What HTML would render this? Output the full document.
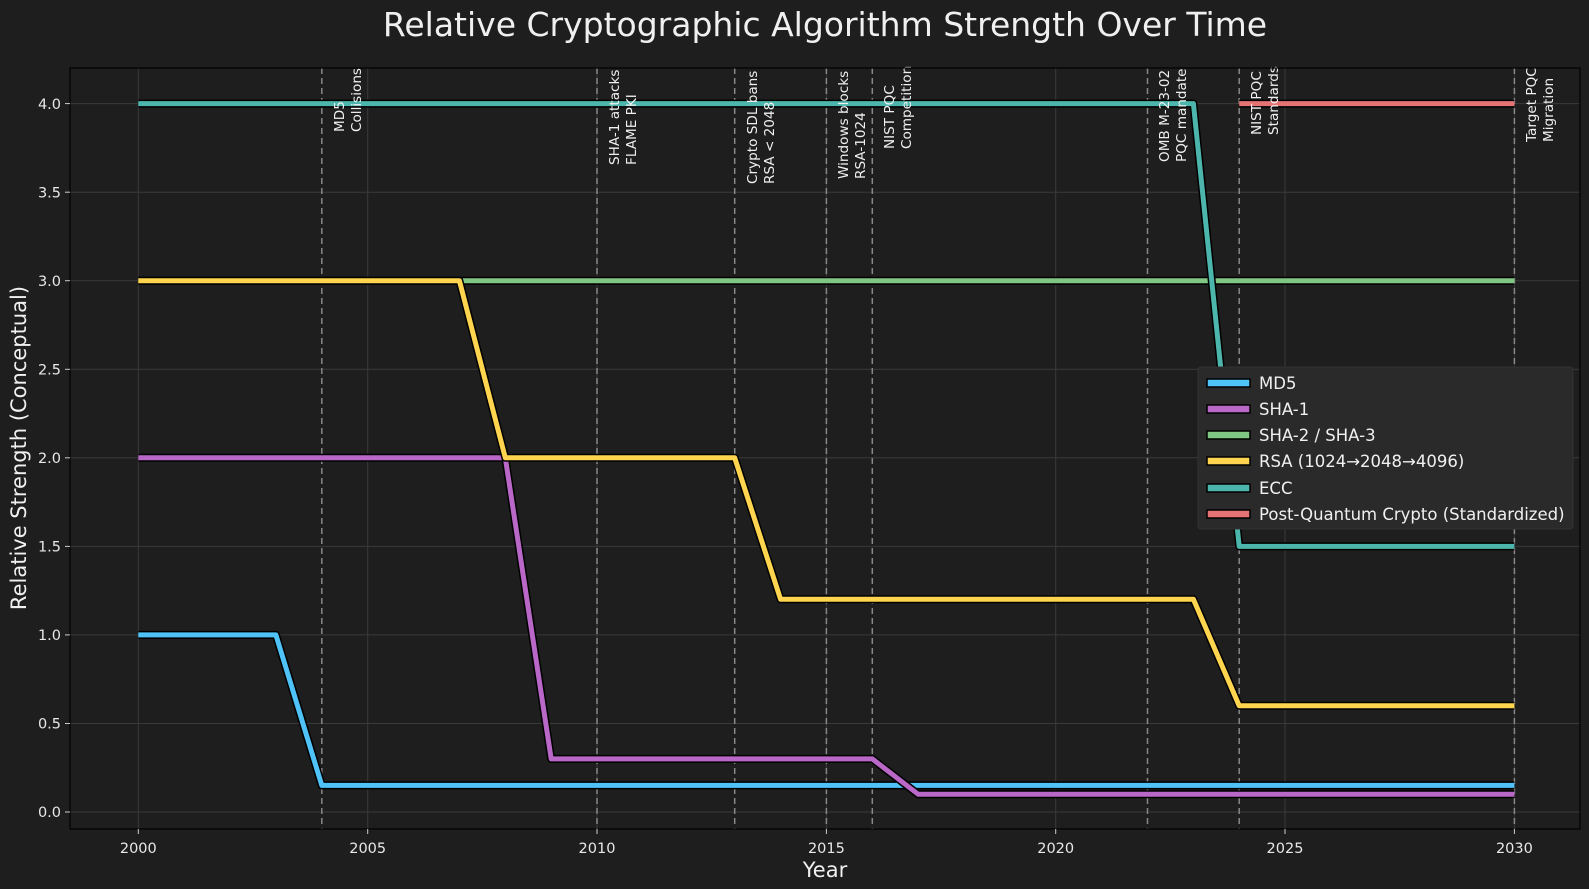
<!DOCTYPE html>
<html><head><meta charset="utf-8"><style>
html,body{margin:0;padding:0;background:#1e1e1e;}
svg{display:block;font-family:"DejaVu Sans","Liberation Sans",sans-serif;}
</style></head><body>
<svg width="1589" height="889" viewBox="0 0 1589 889" xmlns="http://www.w3.org/2000/svg">
<rect width="1589" height="889" fill="#1e1e1e"/>
<text x="825" y="36" fill="#f0f0f0" font-size="33" text-anchor="middle">Relative Cryptographic Algorithm Strength Over Time</text>
<g stroke="#3a3a3a" stroke-width="1">
<line x1="138.3" y1="68" x2="138.3" y2="829"/><line x1="367.7" y1="68" x2="367.7" y2="829"/>
<line x1="597" y1="68" x2="597" y2="829"/><line x1="826.4" y1="68" x2="826.4" y2="829"/>
<line x1="1055.7" y1="68" x2="1055.7" y2="829"/><line x1="1285" y1="68" x2="1285" y2="829"/>
<line x1="1514.4" y1="68" x2="1514.4" y2="829"/>
<line x1="70" y1="812" x2="1580" y2="812"/><line x1="70" y1="723.5" x2="1580" y2="723.5"/>
<line x1="70" y1="634.9" x2="1580" y2="634.9"/><line x1="70" y1="546.4" x2="1580" y2="546.4"/>
<line x1="70" y1="457.8" x2="1580" y2="457.8"/><line x1="70" y1="369.3" x2="1580" y2="369.3"/>
<line x1="70" y1="280.7" x2="1580" y2="280.7"/><line x1="70" y1="192.2" x2="1580" y2="192.2"/>
<line x1="70" y1="103.6" x2="1580" y2="103.6"/>
</g>
<g stroke="#888" stroke-width="1.5" stroke-dasharray="6,4">
<line x1="321.8" y1="68" x2="321.8" y2="829"/><line x1="597" y1="68" x2="597" y2="829"/>
<line x1="734.7" y1="68" x2="734.7" y2="829"/><line x1="826.4" y1="68" x2="826.4" y2="829"/>
<line x1="872.3" y1="68" x2="872.3" y2="829"/><line x1="1147.5" y1="68" x2="1147.5" y2="829"/>
<line x1="1239.2" y1="68" x2="1239.2" y2="829"/><line x1="1514.4" y1="68" x2="1514.4" y2="829"/>
</g>
<g fill="none" stroke-linejoin="round">
<polyline points="138.3,634.9 275.9,634.9 321.8,785.4 1514.4,785.4" stroke="#000" stroke-width="8"/>
<polyline points="138.3,634.9 275.9,634.9 321.8,785.4 1514.4,785.4" stroke="#4fc3f7" stroke-width="5"/>
<polyline points="138.3,457.8 505.3,457.8 551.2,758.9 872.3,758.9 918.2,794.3 1514.4,794.3" stroke="#000" stroke-width="8"/>
<polyline points="138.3,457.8 505.3,457.8 551.2,758.9 872.3,758.9 918.2,794.3 1514.4,794.3" stroke="#ba68c8" stroke-width="5"/>
<polyline points="138.3,280.7 1514.4,280.7" stroke="#000" stroke-width="8"/>
<polyline points="138.3,280.7 1514.4,280.7" stroke="#81c784" stroke-width="5"/>
<polyline points="138.3,280.7 459.4,280.7 505.3,457.8 734.7,457.8 780.6,599.3 1193.4,599.3 1239.2,705.7 1514.4,705.7" stroke="#000" stroke-width="8"/>
<polyline points="138.3,280.7 459.4,280.7 505.3,457.8 734.7,457.8 780.6,599.3 1193.4,599.3 1239.2,705.7 1514.4,705.7" stroke="#ffd54f" stroke-width="5"/>
<polyline points="138.3,103.6 1193.4,103.6 1239.2,546.4 1514.4,546.4" stroke="#000" stroke-width="8"/>
<polyline points="138.3,103.6 1193.4,103.6 1239.2,546.4 1514.4,546.4" stroke="#4db6ac" stroke-width="5"/>
<polyline points="1239.2,103.6 1514.4,103.6" stroke="#000" stroke-width="8"/>
<polyline points="1239.2,103.6 1514.4,103.6" stroke="#e57373" stroke-width="5"/>
</g>
<g fill="#f0f0f0" font-size="13.6">
<text transform="translate(344,132) rotate(-90)">MD5</text><text transform="translate(361,132) rotate(-90)">Collisions</text>
<text transform="translate(619,165) rotate(-90)">SHA-1 attacks</text><text transform="translate(636,165) rotate(-90)">FLAME PKI</text>
<text transform="translate(757,184) rotate(-90)">Crypto SDL bans</text><text transform="translate(774,184) rotate(-90)">RSA &lt; 2048</text>
<text transform="translate(848,179) rotate(-90)">Windows blocks</text><text transform="translate(865,179) rotate(-90)">RSA-1024</text>
<text transform="translate(894,149) rotate(-90)">NIST PQC</text><text transform="translate(911,149) rotate(-90)">Competition</text>
<text transform="translate(1169,162) rotate(-90)">OMB M-23-02</text><text transform="translate(1186,162) rotate(-90)">PQC mandate</text>
<text transform="translate(1261,135) rotate(-90)">NIST PQC</text><text transform="translate(1278,135) rotate(-90)">Standards</text>
<text transform="translate(1536,142) rotate(-90)">Target PQC</text><text transform="translate(1553,142) rotate(-90)">Migration</text>
</g>
<rect x="70" y="68" width="1510" height="761" fill="none" stroke="#000" stroke-width="1.2"/>
<g stroke="#ccc" stroke-width="1">
<line x1="138.3" y1="829" x2="138.3" y2="834"/><line x1="367.7" y1="829" x2="367.7" y2="834"/>
<line x1="597" y1="829" x2="597" y2="834"/><line x1="826.4" y1="829" x2="826.4" y2="834"/>
<line x1="1055.7" y1="829" x2="1055.7" y2="834"/><line x1="1285" y1="829" x2="1285" y2="834"/>
<line x1="1514.4" y1="829" x2="1514.4" y2="834"/>
<line x1="65" y1="812" x2="70" y2="812"/><line x1="65" y1="723.5" x2="70" y2="723.5"/>
<line x1="65" y1="634.9" x2="70" y2="634.9"/><line x1="65" y1="546.4" x2="70" y2="546.4"/>
<line x1="65" y1="457.8" x2="70" y2="457.8"/><line x1="65" y1="369.3" x2="70" y2="369.3"/>
<line x1="65" y1="280.7" x2="70" y2="280.7"/><line x1="65" y1="192.2" x2="70" y2="192.2"/>
<line x1="65" y1="103.6" x2="70" y2="103.6"/>
</g>
<g fill="#e8e8e8" font-size="14.5" text-anchor="middle">
<text x="138.3" y="853">2000</text><text x="367.7" y="853">2005</text><text x="597" y="853">2010</text>
<text x="826.4" y="853">2015</text><text x="1055.7" y="853">2020</text><text x="1285" y="853">2025</text>
<text x="1514.4" y="853">2030</text>
</g>
<g fill="#e8e8e8" font-size="14.5" text-anchor="end">
<text x="61" y="817">0.0</text><text x="61" y="728.5">0.5</text><text x="61" y="640">1.0</text>
<text x="61" y="551.5">1.5</text><text x="61" y="463">2.0</text><text x="61" y="374.5">2.5</text>
<text x="61" y="286">3.0</text><text x="61" y="197.5">3.5</text><text x="61" y="109">4.0</text>
</g>
<text x="825" y="877" fill="#f0f0f0" font-size="21" text-anchor="middle">Year</text>
<text transform="translate(26,448) rotate(-90)" fill="#f0f0f0" font-size="21" text-anchor="middle">Relative Strength (Conceptual)</text>
<rect x="1198" y="367" width="375" height="162" rx="3" fill="#2a2a2a" stroke="#333"/>
<g stroke="#000" stroke-width="1.5">
<rect x="1207" y="379" width="43" height="8" fill="#4fc3f7"/>
<rect x="1207" y="405" width="43" height="8" fill="#ba68c8"/>
<rect x="1207" y="431" width="43" height="8" fill="#81c784"/>
<rect x="1207" y="457" width="43" height="8" fill="#ffd54f"/>
<rect x="1207" y="484" width="43" height="8" fill="#4db6ac"/>
<rect x="1207" y="510" width="43" height="8" fill="#e57373"/>
</g>
<g fill="#f0f0f0" font-size="16.5">
<text x="1259" y="389">MD5</text><text x="1259" y="415">SHA-1</text><text x="1259" y="441">SHA-2 / SHA-3</text>
<text x="1259" y="467">RSA (1024→2048→4096)</text><text x="1259" y="494">ECC</text>
<text x="1259" y="520">Post-Quantum Crypto (Standardized)</text>
</g>
</svg>
</body></html>
